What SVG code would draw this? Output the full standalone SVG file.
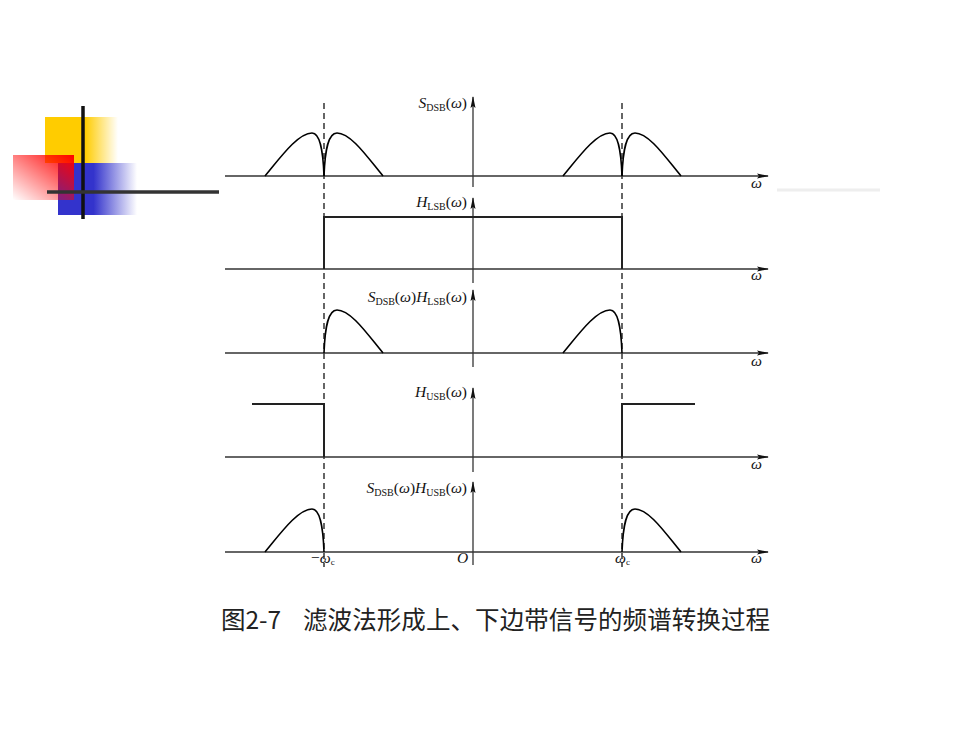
<svg xmlns="http://www.w3.org/2000/svg" xmlns:xlink="http://www.w3.org/1999/xlink" width="980" height="735" viewBox="0 0 980 735">
<style>
.axis{stroke:#333;stroke-width:1.3;fill:none}
.curve{stroke:#000;stroke-width:1.6;fill:none}
.filt{stroke:#222;stroke-width:2;fill:none}
.dash{stroke:#000;stroke-width:1.2;stroke-dasharray:6 4;fill:none}
.lbl{font-family:"Liberation Serif","DejaVu Serif",serif;font-size:15.5px;fill:#111}
.it{font-style:italic}
.cap{font-family:"Noto Sans CJK SC","Noto Sans",sans-serif;font-size:24.5px;fill:#222}
</style>
<defs>
<marker id="ah" viewBox="0 0 12 6" refX="11" refY="3" markerWidth="12" markerHeight="6" markerUnits="userSpaceOnUse" orient="auto">
<path d="M0,0.5 L12,3 L0,5.5 L2,3 Z" fill="#111"/>
</marker>
<path id="lobeL" d="M-59,0 C-44,-18 -26,-43 -12,-43 C-4,-43 -1,-26 0,0"/>
<path id="lobeR" d="M0,0 C1,-26 4,-43 13,-43 C27,-43 44,-18 59,0"/>
<linearGradient id="gY" x1="0" y1="0" x2="1" y2="0">
<stop offset="0.55" stop-color="#FFCC00"/>
<stop offset="1" stop-color="#FFCC00" stop-opacity="0"/>
</linearGradient>
<linearGradient id="gB" x1="0" y1="0" x2="1" y2="0">
<stop offset="0.45" stop-color="#3333CC"/>
<stop offset="1" stop-color="#3333CC" stop-opacity="0"/>
</linearGradient>
<linearGradient id="gR" x1="1" y1="0" x2="0" y2="1">
<stop offset="0" stop-color="#FF0000"/>
<stop offset="1" stop-color="#FF0000" stop-opacity="0"/>
</linearGradient>
</defs>
<rect width="980" height="735" fill="#fff"/>

<g id="decoration">
<rect x="45" y="117" width="73" height="46" fill="url(#gY)"/>
<rect x="58" y="163" width="79" height="52" fill="url(#gB)"/>
<rect x="13" y="155" width="61" height="45" fill="url(#gR)"/>
<line x1="83" y1="106" x2="83" y2="219" stroke="#111" stroke-width="3.5"/>
<line x1="47" y1="192" x2="219" y2="192" stroke="#333" stroke-width="3.5"/>
<line x1="777" y1="190" x2="880" y2="190" stroke="#eee" stroke-width="3"/>
</g>

<g id="dashes">
<line class="dash" x1="324" y1="103" x2="324" y2="567"/>
<line class="dash" x1="622" y1="103" x2="622" y2="567"/>
</g>

<g id="axes">
<line class="axis" x1="225" y1="176" x2="768" y2="176" marker-end="url(#ah)"/>
<line class="axis" x1="473" y1="187" x2="473" y2="97" marker-end="url(#ah)"/>
<line class="axis" x1="225" y1="269" x2="768" y2="269" marker-end="url(#ah)"/>
<line class="axis" x1="473" y1="283" x2="473" y2="198" marker-end="url(#ah)"/>
<line class="axis" x1="225" y1="353" x2="768" y2="353" marker-end="url(#ah)"/>
<line class="axis" x1="473" y1="367" x2="473" y2="290" marker-end="url(#ah)"/>
<line class="axis" x1="225" y1="457" x2="768" y2="457" marker-end="url(#ah)"/>
<line class="axis" x1="473" y1="472" x2="473" y2="388" marker-end="url(#ah)"/>
<line class="axis" x1="225" y1="552" x2="768" y2="552" marker-end="url(#ah)"/>
<line class="axis" x1="473" y1="565" x2="473" y2="482" marker-end="url(#ah)"/>
</g>

<g id="panel1">
<use xlink:href="#lobeL" class="curve" transform="translate(324,176)"/>
<use xlink:href="#lobeR" class="curve" transform="translate(324,176)"/>
<use xlink:href="#lobeL" class="curve" transform="translate(622,176)"/>
<use xlink:href="#lobeR" class="curve" transform="translate(622,176)"/>
<text class="lbl" x="467" y="108" text-anchor="end"><tspan class="it">S</tspan><tspan font-size="10" dy="3">DSB</tspan><tspan dy="-3">(</tspan><tspan class="it">ω</tspan>)</text>
<text class="lbl it" x="751" y="188">ω</text>
</g>

<g id="panel2">
<path class="filt" d="M324,269 V217 H622 V269"/>
<text class="lbl" x="467" y="207" text-anchor="end"><tspan class="it">H</tspan><tspan font-size="10" dy="3">LSB</tspan><tspan dy="-3">(</tspan><tspan class="it">ω</tspan>)</text>
<text class="lbl it" x="751" y="280">ω</text>
</g>

<g id="panel3">
<use xlink:href="#lobeR" class="curve" transform="translate(324,353)"/>
<use xlink:href="#lobeL" class="curve" transform="translate(622,353)"/>
<text class="lbl" x="467" y="302" text-anchor="end"><tspan class="it">S</tspan><tspan font-size="10" dy="3">DSB</tspan><tspan dy="-3">(</tspan><tspan class="it">ω</tspan>)<tspan class="it">H</tspan><tspan font-size="10" dy="3">LSB</tspan><tspan dy="-3">(</tspan><tspan class="it">ω</tspan>)</text>
<text class="lbl it" x="751" y="366">ω</text>
</g>

<g id="panel4">
<path class="filt" d="M252,404 H324 V457"/>
<path class="filt" d="M622,457 V404 H695"/>
<text class="lbl" x="467" y="397" text-anchor="end"><tspan class="it">H</tspan><tspan font-size="10" dy="3">USB</tspan><tspan dy="-3">(</tspan><tspan class="it">ω</tspan>)</text>
<text class="lbl it" x="751" y="469">ω</text>
</g>

<g id="panel5">
<use xlink:href="#lobeL" class="curve" transform="translate(324,552)"/>
<use xlink:href="#lobeR" class="curve" transform="translate(622,552)"/>
<text class="lbl" x="467" y="493" text-anchor="end"><tspan class="it">S</tspan><tspan font-size="10" dy="3">DSB</tspan><tspan dy="-3">(</tspan><tspan class="it">ω</tspan>)<tspan class="it">H</tspan><tspan font-size="10" dy="3">USB</tspan><tspan dy="-3">(</tspan><tspan class="it">ω</tspan>)</text>
<text class="lbl" x="311" y="563">−<tspan class="it">ω</tspan><tspan font-size="9" dy="2">c</tspan></text>
<text class="lbl it" x="457" y="563">O</text>
<text class="lbl" x="615" y="563"><tspan class="it">ω</tspan><tspan font-size="9" dy="2">c</tspan></text>
<text class="lbl it" x="751" y="563">ω</text>
</g>

<g id="caption">
<text class="cap" x="221" y="629">图2-7</text>
<text class="cap" x="303" y="629" textLength="467" lengthAdjust="spacing">滤波法形成上、下边带信号的频谱转换过程</text>
</g>
</svg>
